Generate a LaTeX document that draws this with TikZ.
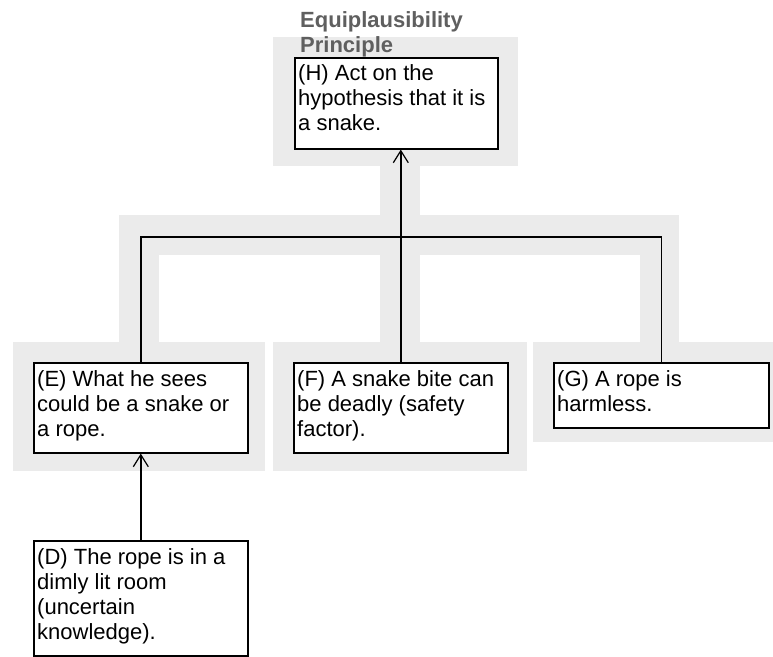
\documentclass[tikz,border=0pt]{standalone}
\usepackage{fontspec}
\setmainfont{Liberation Sans}
\usetikzlibrary{arrows.meta}
\definecolor{band}{RGB}{235,235,235}
\definecolor{titlegray}{RGB}{95,95,95}
\tikzset{
  tbox/.style={draw=black, line width=1.6bp, fill=white, anchor=north west, inner sep=0pt},
  ttext/.style={anchor=base west, inner sep=0pt, font=\fontsize{22bp}{25bp}\selectfont},
  conn/.style={line width=1.5bp, black},
  arr/.style={conn, -{Straight Barb[length=12bp,width=15bp,line width=1.2bp]}},
}
\newcommand{\boxtext}[1]{\parbox[t]{230bp}{\raggedright\fontsize{22bp}{25bp}\selectfont #1}}
\begin{document}
\begin{tikzpicture}[x=1bp,y=-1bp]
\useasboundingbox (0,0) rectangle (773,657);
% gray backdrop bands
\fill[band] (273,37) rectangle (518,166);
\fill[band] (380,166) rectangle (420,342);
\fill[band] (119,215) rectangle (679,255);
\fill[band] (119,215) rectangle (159,342);
\fill[band] (640,215) rectangle (679,342);
\fill[band] (13,342) rectangle (265,471);
\fill[band] (273,342) rectangle (527,471);
\fill[band] (533,342) rectangle (773,442);
% title
\node[ttext, text=titlegray] (title) at (300,28) {\boxtext{\bfseries Equiplausibility\\Principle}};
% boxes
\node[tbox, minimum width=203bp, minimum height=91bp] (h) at (294,57) {};
\node[tbox, minimum width=214bp, minimum height=90bp] (e) at (33,362) {};
\node[tbox, minimum width=214bp, minimum height=90bp] (f) at (293,362) {};
\node[tbox, minimum width=215bp, minimum height=65bp] (g) at (553,362) {};
\node[tbox, minimum width=214bp, minimum height=115bp] (d) at (33,540) {};
% texts
\node[ttext] (ht) at (298,81) {\boxtext{(H) Act on the\\hypothesis that it is\\a snake.}};
\node[ttext] (et) at (37,386) {\boxtext{(E) What he sees\\could be a snake or\\a rope.}};
\node[ttext] (ft) at (297,386) {\boxtext{(F) A snake bite can\\be deadly (safety\\factor).}};
\node[ttext] (gt) at (557,386) {\boxtext{(G) A rope is\\harmless.}};
\node[ttext] (dt) at (37,564) {\boxtext{(D) The rope is in a\\dimly lit room\\(uncertain\\knowledge).}};
% connectors
\coordinate (j) at (f.north |- 0,237);
\draw[conn] (e.north) |- (j) -| (g.north);
\draw[arr] (f.north) -- (f.north |- h.south);
\draw[arr] (d.north) -- (e.south);
\end{tikzpicture}
\end{document}
